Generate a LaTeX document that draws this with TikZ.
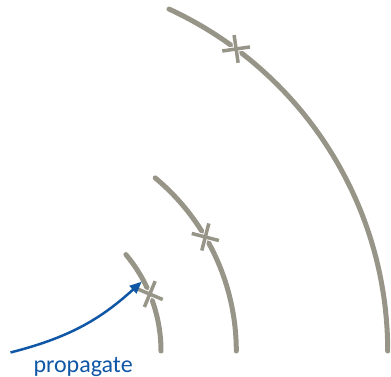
\documentclass[tikz,border=0pt]{standalone}
\usepackage{fontspec}
\setmainfont{Carlito}
\usetikzlibrary{arrows.meta}
\definecolor{arcgray}{RGB}{151,148,136}
\definecolor{propblue}{RGB}{16,87,166}
\begin{document}
\begin{tikzpicture}[x=1pt,y=1pt,
  wave/.style={draw=arcgray, line width=5pt, line cap=round},
  tickbar/.style={draw=arcgray, line width=3.5pt},
  halo/.style={draw=white, line width=5.5pt},
  proparrow/.style={draw=propblue, line width=2.5pt, -{Triangle[length=12pt,width=10pt]}},
  lbl/.style={anchor=base west, inner sep=0pt, text=propblue, font=\fontsize{24}{28}\selectfont}]
\useasboundingbox (0,0) rectangle (391,377);
\coordinate (o) at (11,26);
% wave fronts
\draw[wave] ([shift={(40:150)}]o) arc[start angle=40, end angle=0, radius=150];
\draw[wave] ([shift={(50.2:225.3)}]o) arc[start angle=50.2, end angle=0, radius=225.3];
\draw[wave] ([shift={(65.2:376.7)}]o) arc[start angle=65.2, end angle=0, radius=376.7];
% crosses
\path (o) ++(22.3:150) coordinate (c1);
\path (o) ++(30.4:225.3) coordinate (c2);
\path (o) ++(53.3:376.7) coordinate (c3);
\foreach \c/\a in {c1/-22.7, c2/-14.6, c3/8.3}{
  \draw[halo] ([shift={(\a:14)}]\c) -- ([shift={(\a+180:14)}]\c);
  \draw[halo] ([shift={(\a+90:14)}]\c) -- ([shift={(\a+270:14)}]\c);
  \draw[tickbar] ([shift={(\a:14)}]\c) -- ([shift={(\a+180:14)}]\c);
  \draw[tickbar] ([shift={(\a+90:14)}]\c) -- ([shift={(\a+270:14)}]\c);
}
% arrow
\coordinate (s) at (10.5,24.5);
\coordinate (t) at (141.7,95.3);
\draw[proparrow] (s) to[bend right=14] (t);
\node[lbl] (label) at (33.3,4.3) {propagate};
\end{tikzpicture}
\end{document}
